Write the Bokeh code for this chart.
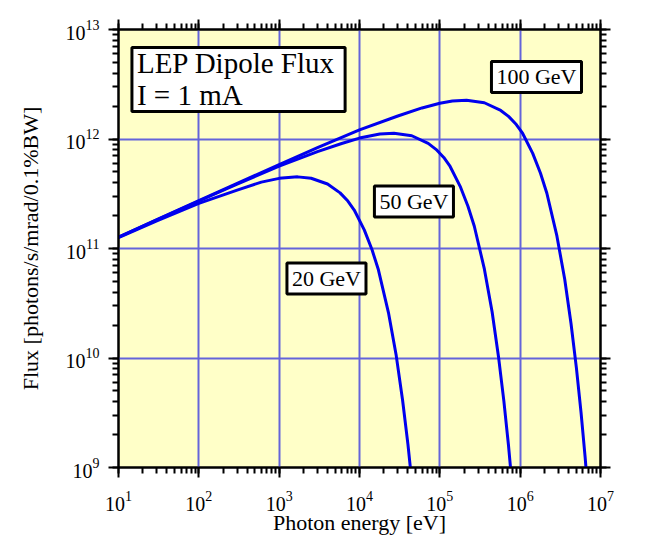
from bokeh.plotting import figure
from bokeh.models import LogAxis, LogTicker, Label, CustomJSTickFormatter, Range1d
from bokeh.embed import file_html
from bokeh.resources import INLINE

# ---- data ----
energy_20 = [10, 30, 100, 300, 600, 1000, 1700, 2500, 4000, 5731, 7164, 8597,
             11462, 14328, 17193, 22924, 28655, 34386, 40117, 45848]
flux_20 = [1.256e11, 1.788e11, 2.58e11, 3.415e11, 4.04e11, 4.37e11, 4.51e11,
           4.38e11, 3.88e11, 3.22e11, 2.71e11, 2.246e11, 1.479e11, 9.73e10,
           6.39e10, 2.60e10, 1.052e10, 4.11e9, 1.617e9, 6.31e8]

energy_50 = [10, 30, 100, 300, 1000, 3000, 6000, 10000, 17910, 26865, 44775,
             71640, 89550, 111940, 134325, 179100, 223875, 268650, 358200,
             447750, 537300, 626850, 716400, 805950]
flux_50 = [1.269e11, 1.827e11, 2.715e11, 3.877e11, 5.655e11, 7.68e11, 9.09e11,
           1.0197e12, 1.1106e12, 1.1278e12, 1.071e12, 9.116e11, 8.047e11,
           6.78e11, 5.614e11, 3.698e11, 2.432e11, 1.597e11, 6.51e10, 2.629e10,
           1.028e10, 4.04e9, 1.579e9, 6.12e8]

energy_100 = [10, 30, 100, 300, 1000, 3000, 10000, 30000, 60000, 100000, 143280,
              214920, 358200, 573120, 716400, 895500, 1074600, 1432800, 1791000,
              2149200, 2865600, 3582000, 4298400, 5014800, 5731200, 6447600,
              7164000]
flux_100 = [1.272e11, 1.834e11, 2.734e11, 3.931e11, 5.84e11, 8.327e11, 1.2098e12,
            1.6216e12, 1.922e12, 2.118e12, 2.221e12, 2.2555e12, 2.1425e12,
            1.823e12, 1.609e12, 1.356e12, 1.1228e12, 7.396e11, 4.865e11,
            3.194e11, 1.302e11, 5.258e10, 2.057e10, 8.08e9, 3.157e9, 1.2236e9,
            4.715e8]

x_limits = [1e1, 1e7]
y_limits = [1e9, 1e13]

curve_labels = ["20 GeV", "50 GeV", "100 GeV"]
label_x = [3.88e3, 4.76e4, 1.596e6]
label_y = [5.32e10, 2.69e11, 3.69e12]

title_text = "LEP Dipole Flux\nI = 1 mA"
x_label = "Photon energy [eV]"
y_label = "Flux [photons/s/mrad/0.1%BW]"

SERIF = "Liberation Serif"
CURVE = "#0000ee"
GRID = "#6464da"

p = figure(x_axis_type="log", y_axis_type="log",
           x_range=Range1d(*x_limits), y_range=Range1d(*y_limits),
           frame_width=482, frame_height=438,
           min_border_left=118, min_border_right=55,
           min_border_top=29, min_border_bottom=72,
           output_backend="svg", toolbar_location=None)

p.background_fill_color = "#ffffc8"
p.border_fill_color = "white"
p.outline_line_color = "black"
p.outline_line_width = 2

bottom_axis = p.xaxis[0]
left_axis = p.yaxis[0]
bottom_axis.ticker = LogTicker(desired_num_ticks=6, num_minor_ticks=10)
left_axis.ticker = LogTicker(desired_num_ticks=5, num_minor_ticks=10)

top_axis = LogAxis(ticker=LogTicker(desired_num_ticks=6, num_minor_ticks=10),
                   formatter=CustomJSTickFormatter(code="return ''"))
right_axis = LogAxis(ticker=LogTicker(desired_num_ticks=5, num_minor_ticks=10),
                     formatter=CustomJSTickFormatter(code="return ''"))
p.add_layout(top_axis, "above")
p.add_layout(right_axis, "right")

for ax in [bottom_axis, left_axis, top_axis, right_axis]:
    ax.axis_line_width = 2
    ax.axis_line_color = "black"
    ax.major_tick_line_width = 2
    ax.major_tick_line_color = "black"
    ax.minor_tick_line_width = 2
    ax.minor_tick_line_color = "black"
    ax.major_tick_in = 0
    ax.major_tick_out = 10
    ax.minor_tick_in = 0
    ax.minor_tick_out = 6
    ax.major_label_text_font = SERIF
    ax.major_label_text_font_size = "20px"
    ax.major_label_text_color = "black"
    ax.axis_label_text_font = SERIF
    ax.axis_label_text_font_size = "22px"
    ax.axis_label_text_font_style = "normal"
    ax.axis_label_text_color = "black"

bottom_axis.axis_label = x_label
bottom_axis.major_label_standoff = 13
bottom_axis.axis_label_standoff = -4
left_axis.axis_label = y_label
left_axis.major_label_standoff = 9
left_axis.axis_label_standoff = 20

p.xgrid.grid_line_color = GRID
p.xgrid.grid_line_width = 2
p.ygrid.grid_line_color = GRID
p.ygrid.grid_line_width = 2

for ex, fl in [(energy_20, flux_20), (energy_50, flux_50), (energy_100, flux_100)]:
    p.line(ex, fl, line_color=CURVE, line_width=3)

for txt, lx, ly in zip(curve_labels, label_x, label_y):
    p.add_layout(Label(x=lx, y=ly, text=txt, text_font=SERIF,
                       text_font_size="22px", text_color="black",
                       text_align="center", text_baseline="middle",
                       background_fill_color="white",
                       border_line_color="black", border_line_width=3,
                       padding=dict(left=5, right=5, top=3, bottom=3)))

p.add_layout(Label(x=14.7, y=3.5e12, text=title_text, text_font=SERIF,
                   text_font_size="29px", text_color="black",
                   text_align="left", text_baseline="middle",
                   text_line_height=1.0,
                   background_fill_color="white",
                   border_line_color="black", border_line_width=3,
                   padding=dict(left=5, right=10, top=0, bottom=0)))

open("out.html", "w").write(file_html(p, INLINE))
